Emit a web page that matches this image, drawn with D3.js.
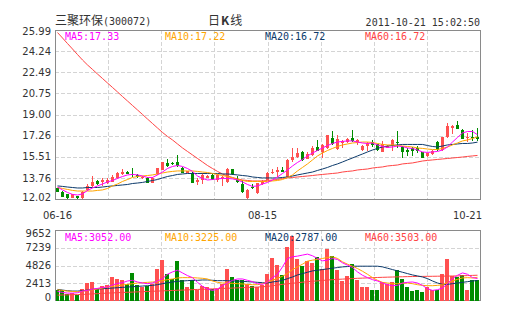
<!DOCTYPE html>
<html><head><meta charset="utf-8">
<script src="https://cdn.jsdelivr.net/npm/d3@7/dist/d3.min.js"></script>
<style>body{margin:0;background:#fff;}svg{display:block;}</style>
</head><body>
<svg id="c" width="505" height="330"></svg>
<script>
// ---- data ----
const stockName = "三聚环保";
const stockCode = "300072";
const chartType = ["日", "K", "线"];
const timestamp = "2011-10-21 15:02:50";
const priceTicks = ["25.99","24.24","22.49","20.75","19.00","17.26","15.51","13.76","12.02"];
const volTicks = ["9652","7239","4826","2413","0"];
const dateLabels = ["06-16","08-15","10-21"];
const dateIndex = [0, 41, 84];
const maNames = ["MA5","MA10","MA20","MA60"];
const maLegendValues = [17.33, 17.22, 16.72, 16.72];
const volMaLegendValues = [3052, 3225, 2787, 3503];

const open = [12.90,12.63,12.41,12.13,12.27,12.13,12.77,13.10,13.51,13.40,
13.32,13.46,13.73,14.06,14.28,14.06,14.01,13.78,13.79,13.37,
14.06,14.42,15.03,15.03,15.11,14.61,14.20,14.20,13.46,13.60,
13.79,14.01,13.60,13.79,13.40,14.50,13.68,13.24,12.13,13.05,
12.49,13.24,13.60,14.15,14.23,14.42,13.87,15.25,15.47,15.93,
15.33,15.66,16.35,15.88,16.21,17.09,16.13,16.62,16.71,17.09,
16.62,16.07,16.40,16.74,16.54,15.93,16.27,16.49,16.76,16.35,
16.07,16.27,16.27,15.88,15.60,15.71,16.71,16.07,17.12,17.86,
18.14,17.72,17.09,17.18,17.18];
const high = [12.95,12.66,12.45,12.45,12.30,12.68,13.24,13.95,13.55,13.79,
13.79,14.01,14.25,14.47,14.33,14.61,14.05,13.92,13.85,13.82,
14.60,15.10,15.30,15.08,15.66,14.65,14.35,14.24,13.73,14.15,
14.00,14.05,14.05,13.90,14.61,14.54,13.88,13.60,12.85,13.24,
13.36,13.55,14.25,14.47,14.64,14.64,15.30,16.21,16.21,16.00,
15.88,16.40,16.90,16.55,17.35,17.64,17.31,16.88,17.09,17.72,
16.98,16.48,16.76,16.90,16.60,16.82,16.50,16.95,17.64,16.40,
16.21,16.30,16.40,15.93,15.85,16.05,16.82,17.15,18.28,18.14,
18.47,17.81,17.45,17.72,17.86];
const low = [12.60,12.18,12.05,12.10,12.05,12.02,12.72,13.05,13.20,13.10,
13.30,13.42,13.70,14.01,14.05,13.87,13.78,13.70,13.33,13.33,
14.00,14.38,14.70,14.85,14.70,14.18,14.15,13.32,13.18,13.24,
13.75,13.56,13.40,13.10,13.35,14.02,13.36,12.49,12.02,12.85,
12.45,13.20,13.55,14.06,13.87,14.23,13.83,15.11,15.40,15.20,
15.30,15.60,15.98,15.44,16.15,16.52,16.08,16.27,16.66,16.76,
16.48,16.02,16.00,16.35,16.02,15.88,16.20,16.02,16.21,15.39,
15.60,15.60,15.80,15.40,15.50,15.66,16.02,16.02,17.08,17.40,
17.78,16.95,16.76,16.82,16.82];
const close = [12.63,12.22,12.08,12.41,12.08,12.63,13.10,13.46,13.24,13.60,
13.60,13.81,14.20,14.28,14.09,13.98,13.81,13.87,13.37,13.79,
14.56,15.05,14.78,14.89,14.78,14.20,14.30,13.37,13.60,14.01,
13.95,13.60,14.01,13.85,14.50,14.06,13.40,12.63,12.77,13.00,
13.32,13.46,14.20,14.28,14.42,14.28,15.25,15.52,15.85,15.25,
15.74,16.21,16.02,16.49,17.31,16.57,16.98,16.82,16.98,16.82,
16.90,16.43,16.68,16.45,16.07,16.54,16.43,16.90,16.62,15.88,
15.88,16.02,16.02,15.44,15.80,15.99,16.07,17.12,18.06,18.06,
17.81,16.98,17.18,17.04,17.00];
const volume = [1500,1450,980,1070,750,1670,2440,2580,1670,1990,
2120,3270,2950,2810,2350,3820,2120,1900,1990,2350,
4320,5550,3630,3040,5460,2900,1900,2900,1440,1990,
1900,1580,1670,2350,4320,3270,2900,2810,2350,1990,
1900,2220,3630,5780,4870,3500,7380,8880,5690,4730,
5420,5100,6010,4410,7060,6100,4270,2720,3360,5000,
2810,1900,1900,1530,1530,2580,2260,2580,4180,3040,
1900,1350,1440,1210,1900,1530,1530,3630,5690,3360,
3270,3590,1440,2810,2900];
const ma5 = [13.01,12.77,12.56,12.40,12.35,12.44,12.73,12.93,13.10,13.26,
13.43,13.55,13.72,13.88,14.01,14.05,14.01,13.92,13.80,13.80,
14.01,14.25,14.54,14.71,14.79,14.71,14.54,14.30,13.92,13.72,
13.59,13.63,13.68,13.72,13.72,13.68,13.59,13.43,13.22,13.06,
13.10,13.26,13.39,13.59,13.84,14.13,14.42,14.75,15.04,15.29,
15.58,15.82,16.03,16.24,16.44,16.61,16.73,16.78,16.82,16.82,
16.73,16.65,16.61,16.65,16.49,16.36,16.28,16.32,16.40,16.36,
16.24,16.20,16.07,15.91,15.87,15.91,15.95,16.07,16.32,16.73,
17.11,17.48,17.60,17.60,17.33];
const ma10 = [12.97,12.89,12.81,12.73,12.68,12.68,12.68,12.68,12.73,12.77,
12.89,13.10,13.26,13.47,13.63,13.80,13.88,13.92,13.96,14.01,
14.09,14.17,14.25,14.30,14.34,14.34,14.34,14.34,14.30,14.25,
14.21,14.13,14.05,13.96,13.88,13.76,13.63,13.55,13.47,13.47,
13.47,13.47,13.47,13.51,13.55,13.63,13.80,14.01,14.34,14.63,
14.92,15.25,15.58,15.82,16.03,16.20,16.36,16.49,16.57,16.65,
16.69,16.73,16.73,16.69,16.61,16.53,16.49,16.49,16.44,16.40,
16.36,16.32,16.24,16.20,16.15,16.11,16.11,16.20,16.32,16.49,
16.65,16.82,16.90,17.02,17.15];
const ma20 = [13.10,13.06,13.01,12.97,12.93,12.93,12.97,12.97,12.97,13.01,
13.06,13.10,13.14,13.18,13.22,13.30,13.34,13.39,13.47,13.55,
13.63,13.76,13.88,13.96,14.05,14.09,14.13,14.13,14.13,14.13,
14.13,14.13,14.13,14.09,14.09,14.05,14.01,13.96,13.92,13.84,
13.80,13.76,13.76,13.76,13.76,13.80,13.84,13.92,14.01,14.09,
14.17,14.25,14.38,14.50,14.63,14.79,14.92,15.08,15.25,15.41,
15.58,15.74,15.91,16.07,16.20,16.32,16.40,16.44,16.49,16.53,
16.53,16.53,16.53,16.53,16.44,16.36,16.32,16.40,16.49,16.53,
16.57,16.61,16.61,16.65,16.72];
const ma60 = [25.78,25.33,24.87,24.42,23.96,23.51,23.10,22.73,22.35,21.98,
21.61,21.24,20.87,20.49,20.12,19.75,19.38,19.01,18.63,18.26,
17.89,17.52,17.19,16.90,16.57,16.24,15.95,15.66,15.37,15.08,
14.79,14.54,14.30,14.09,13.92,13.80,13.68,13.59,13.55,13.51,
13.51,13.51,13.55,13.59,13.63,13.72,13.76,13.80,13.84,13.88,
13.92,13.96,14.01,14.05,14.09,14.13,14.17,14.25,14.30,14.34,
14.42,14.46,14.50,14.58,14.63,14.67,14.75,14.79,14.83,14.92,
14.96,15.00,15.08,15.16,15.21,15.25,15.29,15.33,15.37,15.41,
15.45,15.49,15.54,15.58,15.62];
const volMa5 = [1303,1166,1075,1075,1120,1349,1440,1623,1714,1851,
1897,2171,2400,2491,2720,2811,2583,2446,2354,2446,
2720,3040,3634,3954,4182,3817,3451,3177,2537,1988,
1623,1440,1623,2080,2446,2811,2994,2994,2811,2628,
2354,2263,2600,3177,3634,4639,5782,6010,6101,6239,
6376,6147,5782,5462,5553,5782,5645,5188,4868,4548,
3954,3497,3177,2903,2720,2446,2217,2080,2126,2446,
2537,2583,2446,2126,1669,1440,1532,1760,2354,3040,
3497,3817,3634,3177,3052];
const volMa10 = [1531,1440,1349,1303,1257,1303,1440,1531,1623,1760,
1897,1988,2080,2171,2263,2354,2446,2491,2537,2583,
2628,2766,2903,2994,3131,3177,3177,3177,3131,3085,
2994,2720,2537,2446,2446,2400,2354,2309,2263,2217,
2217,2354,2583,2811,3085,3360,3725,4273,4639,5005,
5416,5553,5645,5782,5919,6010,5782,5325,5005,4731,
4411,4045,3634,3177,2811,2537,2446,2354,2354,2400,
2446,2354,2217,2126,2080,2080,2126,2217,2491,2720,
2948,3131,3177,3131,3225];
const volMa20 = [1577,1486,1394,1349,1349,1394,1486,1577,1623,1669,
1714,1760,1806,1851,1897,1943,1988,2034,2080,2126,
2217,2354,2491,2583,2674,2720,2766,2811,2811,2857,
2857,2811,2766,2766,2766,2720,2720,2674,2628,2583,
2537,2491,2446,2583,2674,2811,3040,3268,3542,3725,
3908,4091,4182,4273,4365,4456,4548,4639,4685,4731,
4731,4731,4731,4731,4731,4639,4456,4273,4091,3908,
3725,3542,3405,3268,3040,2720,2446,2263,2263,2354,
2446,2537,2628,2720,2787];
const volMa60 = [800,820,840,860,875,890,930,965,1000,1040,
1075,1100,1130,1160,1185,1210,1240,1265,1295,1320,
1350,1375,1405,1430,1460,1485,1510,1540,1570,1595,
1620,1650,1680,1705,1730,1760,1785,1815,1840,1870,
1900,1945,1990,2080,2170,2260,2335,2410,2480,2555,
2630,2685,2740,2795,2850,2900,2940,2975,3015,3050,
3085,3110,3140,3165,3195,3220,3240,3260,3280,3295,
3315,3325,3335,3345,3350,3360,3370,3380,3390,3400,
3405,3430,3455,3480,3503];

// ---- styles ----
const maColors = ["#ff00ff", "#ffa500", "#0c3a6b", "#ff4444"];
const upColor = "#ff5050", downColor = "#008c00";
const gridColor = "#d4d4d4", borderColor = "#8a8a8a", textColor = "#333";
const N = open.length;

const svg = d3.select("#c");
const L = 55, R = 480, T = 30, B = 199, VT = 230, VB = 301;

const x = d3.scaleBand().domain(d3.range(N)).range([L, R]);
const y = d3.scaleLinear().domain([+priceTicks[priceTicks.length-1], +priceTicks[0]]).range([B, T]);
const yv = d3.scaleLinear().domain([0, +volTicks[0]]).range([VB, VT]);
const gx = d3.scaleLinear().domain([0, 8]).range([L, R]);
const crisp = v => Math.round(v) + 0.5;

// ---- grids ----
const grid = svg.append("g").attr("stroke", gridColor).attr("stroke-dasharray", "4,2").attr("shape-rendering","crispEdges");
d3.range(1, 8).forEach(k => {
  grid.append("line").attr("x1", crisp(gx(k))).attr("x2", crisp(gx(k))).attr("y1", T).attr("y2", B);
  grid.append("line").attr("x1", crisp(gx(k))).attr("x2", crisp(gx(k))).attr("y1", VT).attr("y2", VB);
});
priceTicks.slice(1, -1).forEach(t => {
  grid.append("line").attr("x1", L).attr("x2", R).attr("y1", crisp(y(+t))).attr("y2", crisp(y(+t)));
});
volTicks.slice(1, -1).forEach(t => {
  grid.append("line").attr("x1", L).attr("x2", R).attr("y1", crisp(yv(+t))).attr("y2", crisp(yv(+t)));
});

// ---- borders ----
svg.append("rect").attr("x", L + 0.5).attr("y", T + 0.5).attr("width", R - L).attr("height", B - T)
  .attr("fill", "none").attr("stroke", borderColor);
svg.append("rect").attr("x", L + 0.5).attr("y", VT + 0.5).attr("width", R - L).attr("height", VB - VT - 1)
  .attr("fill", "none").attr("stroke", borderColor);

// ---- clip ----
svg.append("clipPath").attr("id","cp").append("rect").attr("x", L+1).attr("y", T+1).attr("width", R-L-1).attr("height", B-T);
svg.append("clipPath").attr("id","cv").append("rect").attr("x", L+1).attr("y", VT+1).attr("width", R-L-1).attr("height", VB-VT);

const idx = d3.range(N);
const isUp = i => close[i] >= open[i];

// ---- candles ----
const cg = svg.append("g").attr("clip-path","url(#cp)").attr("shape-rendering","crispEdges");
cg.selectAll("rect.w").data(idx).join("rect").attr("class","w")
  .attr("x", i => x(i) + 2).attr("width", 1)
  .attr("y", i => Math.round(y(high[i])))
  .attr("height", i => Math.max(1, Math.round(y(low[i])) - Math.round(y(high[i]))))
  .attr("fill", i => isUp(i) ? upColor : downColor);
cg.selectAll("rect.b").data(idx).join("rect").attr("class","b")
  .attr("x", i => x(i) + 1).attr("width", 3)
  .attr("y", i => Math.round(y(Math.max(open[i], close[i]))))
  .attr("height", i => Math.max(1, Math.round(y(Math.min(open[i], close[i]))) - Math.round(y(Math.max(open[i], close[i])))))
  .attr("fill", i => isUp(i) ? upColor : downColor);

// ---- price MA lines ----
const pl = d3.line().x((d, i) => x(i) + 2.5).y(d => y(d));
const lg = svg.append("g").attr("clip-path","url(#cp)").attr("fill","none").attr("stroke-width",1);
[ma60, ma20, ma10, ma5].forEach((s, k) => {
  lg.append("path").attr("d", pl(s)).attr("stroke", maColors[3 - k]);
});

// ---- volume bars ----
const vg = svg.append("g").attr("clip-path","url(#cv)").attr("shape-rendering","crispEdges");
vg.selectAll("rect").data(idx).join("rect")
  .attr("x", i => x(i)).attr("width", 4)
  .attr("y", i => Math.round(yv(volume[i])))
  .attr("height", i => VB - Math.round(yv(volume[i])))
  .attr("fill", i => isUp(i) ? upColor : downColor);

const vl = d3.line().x((d, i) => x(i) + 2.5).y(d => yv(d));
const vlg = svg.append("g").attr("clip-path","url(#cv)").attr("fill","none").attr("stroke-width",1);
[volMa60, volMa20, volMa10, volMa5].forEach((s, k) => {
  vlg.append("path").attr("d", vl(s)).attr("stroke", maColors[3 - k]);
});

// ---- axes ----
const axFont = "DejaVu Sans, Verdana, sans-serif";
const ya = svg.append("g").attr("transform", `translate(${L},0)`)
  .call(d3.axisLeft(y).tickValues(priceTicks.map(Number)).tickFormat(d3.format(".2f")).tickSize(0).tickPadding(4));
ya.select(".domain").remove();
ya.selectAll("text").attr("font-family", axFont).attr("font-size", 10).attr("fill", textColor);
ya.selectAll(".tick").filter(d => d === +priceTicks[0]).select("text").attr("dy", "0.45em");
ya.selectAll(".tick").filter(d => d === +priceTicks[priceTicks.length-1]).select("text").attr("dy", "0.15em");

const va = svg.append("g").attr("transform", `translate(${L},0)`)
  .call(d3.axisLeft(yv).tickValues(volTicks.map(Number)).tickFormat(d3.format("d")).tickSize(0).tickPadding(4));
va.select(".domain").remove();
va.selectAll("text").attr("font-family", axFont).attr("font-size", 10).attr("fill", textColor);
va.selectAll(".tick").filter(d => d === +volTicks[0]).select("text").attr("dy", "0.62em");
va.selectAll(".tick").filter(d => d === 0).select("text").attr("dy", "-0.1em");

const xa = svg.append("g").attr("transform", `translate(0,${B})`)
  .call(d3.axisBottom(x).tickValues(dateIndex).tickFormat((d, k) => dateLabels[k]).tickSize(0).tickPadding(13));
xa.select(".domain").remove();
xa.selectAll("text").attr("font-family", axFont).attr("font-size", 10).attr("fill", textColor);
xa.selectAll(".tick").filter(d => d === dateIndex[dateIndex.length-1]).select("text")
  .attr("text-anchor", "end").attr("x", 482 - (x(dateIndex[dateIndex.length-1]) + x.bandwidth()/2));

// ---- titles ----
const t1 = svg.append("text").attr("x", L).attr("y", 25).attr("fill", textColor);
t1.append("tspan").attr("font-family", "Noto Sans CJK SC").attr("font-size", 12).text(stockName);
t1.append("tspan").attr("font-family", "DejaVu Sans Mono, monospace").attr("font-size", 10).text("(" + stockCode + ")");

const t2 = svg.append("text").attr("x", 208).attr("y", 25).attr("fill", textColor).attr("font-family", "Noto Sans CJK SC").attr("font-size", 12);
t2.append("tspan").text(chartType[0]);
t2.append("tspan").attr("font-weight", "bold").attr("dx", 1).text(chartType[1]);
t2.append("tspan").attr("dx", 1).text(chartType[2]);

svg.append("text").attr("x", R).attr("y", 25.5).attr("text-anchor", "end").attr("fill", textColor)
  .attr("font-family", "DejaVu Sans Mono, monospace").attr("font-size", 10).text(timestamp);

// ---- legends ----
const mono = "DejaVu Sans Mono, monospace";
maNames.forEach((n, k) => {
  svg.append("text").attr("x", 65 + k * 100).attr("y", 40).attr("fill", maColors[k])
    .attr("font-family", mono).attr("font-size", 10).text(n + ":" + d3.format(".2f")(maLegendValues[k]));
  svg.append("text").attr("x", 65 + k * 100).attr("y", 240.5).attr("fill", maColors[k])
    .attr("font-family", mono).attr("font-size", 10).text(n + ":" + d3.format(".2f")(volMaLegendValues[k]));
});
</script>
</body></html>
